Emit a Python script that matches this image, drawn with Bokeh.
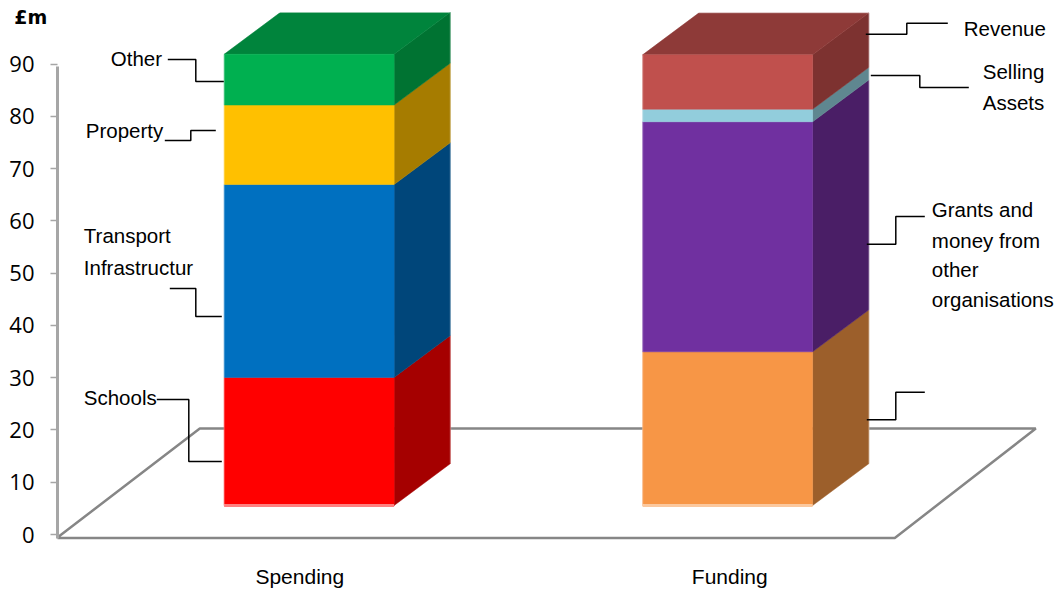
from bokeh.plotting import figure
from bokeh.models import Range1d, FixedTicker, Label
from bokeh.embed import file_html
from bokeh.resources import INLINE

# ---- data (£m) ----
categories = ["Spending", "Funding"]
spending_names = ["Schools", "Transport Infrastructur", "Property", "Other"]
spending_values = [24.5, 36.9, 15.2, 9.7]
funding_names = ["", "Grants and money from other organisations", "Selling Assets", "Revenue"]
funding_values = [29.4, 44.0, 2.4, 10.4]
y_ticks = [0, 10, 20, 30, 40, 50, 60, 70, 80, 90]
unit_label = "£m"

spending_front = ["#FF0000", "#0070C0", "#FFC000", "#00B050"]
spending_side = ["#A50000", "#00467A", "#A67C00", "#007332"]
spending_top = "#00843C"
spending_base = "#FF8080"
funding_front = ["#F79646", "#7030A0", "#92CDDC", "#C0504D"]
funding_side = ["#9C5F2B", "#4A1E66", "#5F8790", "#7D3230"]
funding_top = "#8E3A38"
funding_base = "#FBC89E"

# ---- layout (page pixels) ----
PX_PER_UNIT = (534 - 63.5) / 90
FRAME_TOP, FRAME_BOTTOM = 12, 540
val = lambda py: (534 - py) / PX_PER_UNIT
BASE = val(505)
DX = 56.4
DY = 42 / PX_PER_UNIT
BAR_W = 170
BAR_X = [224.3, 642.8]
GRAY = "#868686"
FONT = "Liberation Sans"
FS = "20.5px"

p = figure(width=1056, height=592, output_backend="svg", toolbar_location=None,
           x_range=Range1d(57.7, 1056.7), y_range=Range1d(val(FRAME_BOTTOM), val(FRAME_TOP)),
           min_border_left=57, min_border_right=0, min_border_top=FRAME_TOP, min_border_bottom=52,
           background_fill_color="white", border_fill_color="white", outline_line_color=None)
p.extra_y_ranges = {"px": Range1d(FRAME_BOTTOM, FRAME_TOP)}
p.grid.visible = False

# axes
ya = p.yaxis[0]
ya.ticker = FixedTicker(ticks=y_ticks)
ya.bounds = (val(537.5), 89.6)
ya.axis_line_color = "#A6A6A6"
ya.axis_line_width = 3
ya.major_tick_line_color = "#A6A6A6"
ya.major_tick_line_width = 1.5
ya.major_tick_out = 7
ya.major_tick_in = 0
ya.minor_tick_line_color = None
ya.major_label_standoff = 16
ya.major_label_text_font = "Open Sans"
ya.major_label_text_font_size = "22px"
ya.major_label_text_color = "#000000"
ya.axis_label = "\n" + unit_label
ya.axis_label_orientation = "horizontal"
ya.axis_label_align = "end"
ya.axis_label_standoff = -41
ya.axis_label_text_baseline = "top"
ya.axis_label_text_line_height = 0.4
ya.axis_label_text_font = "DejaVu Sans"
ya.axis_label_text_font_style = "bold"
ya.axis_label_text_font_size = "19px"
ya.axis_label_text_color = "#000000"

xa = p.xaxis[0]
LABEL_X = [300, 730]
xa.ticker = FixedTicker(ticks=LABEL_X)
xa.major_label_overrides = dict(zip(LABEL_X, categories))
xa.axis_line_color = None
xa.major_tick_line_color = None
xa.minor_tick_line_color = None
xa.major_tick_out = 0
xa.major_tick_in = 0
xa.major_label_standoff = 24
xa.major_label_text_font = FONT
xa.major_label_text_font_size = "21px"
xa.major_label_text_color = "#000000"

# floor
floor_x = [57, 895, 1036, 200, 57]
floor_y = [537.5, 537.5, 428, 428, 537.5]
p.line(floor_x, floor_y, y_range_name="px", line_color=GRAY, line_width=2.5)


def bar(x0, values, front, side, top, base_col):
    x1 = x0 + BAR_W
    bottoms, tops = [], []
    b = BASE
    for v in values:
        bottoms.append(b)
        tops.append(b + v)
        b += v
    p.patches([[x1, x1 + DX, x1 + DX, x1] for _ in values],
              [[lo, lo + DY, hi + DY, hi] for lo, hi in zip(bottoms, tops)],
              fill_color=side, line_color=side, line_width=0.5)
    p.patch([x0, x0 + DX, x1 + DX, x1], [b, b + DY, b + DY, b],
            fill_color=top, line_color=top, line_width=0.5)
    p.quad(left=[x0] * len(values), right=[x1] * len(values), bottom=bottoms, top=tops,
           fill_color=front, line_color=front, line_width=0.5)
    # pale rims of the 3D block
    p.line([x0, x1], [BASE, BASE], line_color=base_col, line_width=3)
    p.line([x0, x0], [BASE, b], line_color="white", line_alpha=0.22, line_width=1.5)
    p.line([x0 + DX, x1 + DX], [b + DY, b + DY], line_color="white", line_alpha=0.22, line_width=1.5)
    p.line([x1 + DX, x1 + DX], [BASE + DY, b + DY], line_color="white", line_alpha=0.3, line_width=1.5)


bar(BAR_X[0], spending_values, spending_front, spending_side, spending_top, spending_base)
bar(BAR_X[1], funding_values, funding_front, funding_side, funding_top, funding_base)

# leader lines
leaders = [
    ([168, 196, 196, 224], [59, 59, 81, 81]),
    ([165, 191, 191, 216], [140, 140, 130, 130]),
    ([170, 196, 196, 222], [288, 288, 316, 316]),
    ([157, 189, 189, 222], [399, 399, 461, 461]),
    ([866, 907, 907, 948], [33.7, 33.7, 22.7, 22.7]),
    ([871, 920, 920, 969], [75, 75, 87, 87]),
    ([867, 896, 896, 925], [243.7, 243.7, 216, 216]),
    ([867, 896, 896, 925], [419.3, 419.3, 391.7, 391.7]),
]
for xs, ys in leaders:
    p.line(xs, ys, y_range_name="px", line_color="#000000", line_width=1.5)

# labels
texts = [
    ("Other", 111, 58), ("Property", 86, 130), ("Transport", 84, 235), ("Infrastructur", 84, 267),
    ("Schools", 84, 397), ("Revenue", 964, 28), ("Selling", 983, 71), ("Assets", 983, 102),
    ("Grants and", 932, 209), ("money from", 932, 240), ("other", 932, 269), ("organisations", 932, 299),
]
for t, x, y in texts:
    p.add_layout(Label(x=x, y=y, y_range_name="px", text=t, text_font=FONT, text_font_size=FS,
                       text_color="#000000", text_align="left", text_baseline="middle"))

open("out.html", "w").write(file_html(p, INLINE))
